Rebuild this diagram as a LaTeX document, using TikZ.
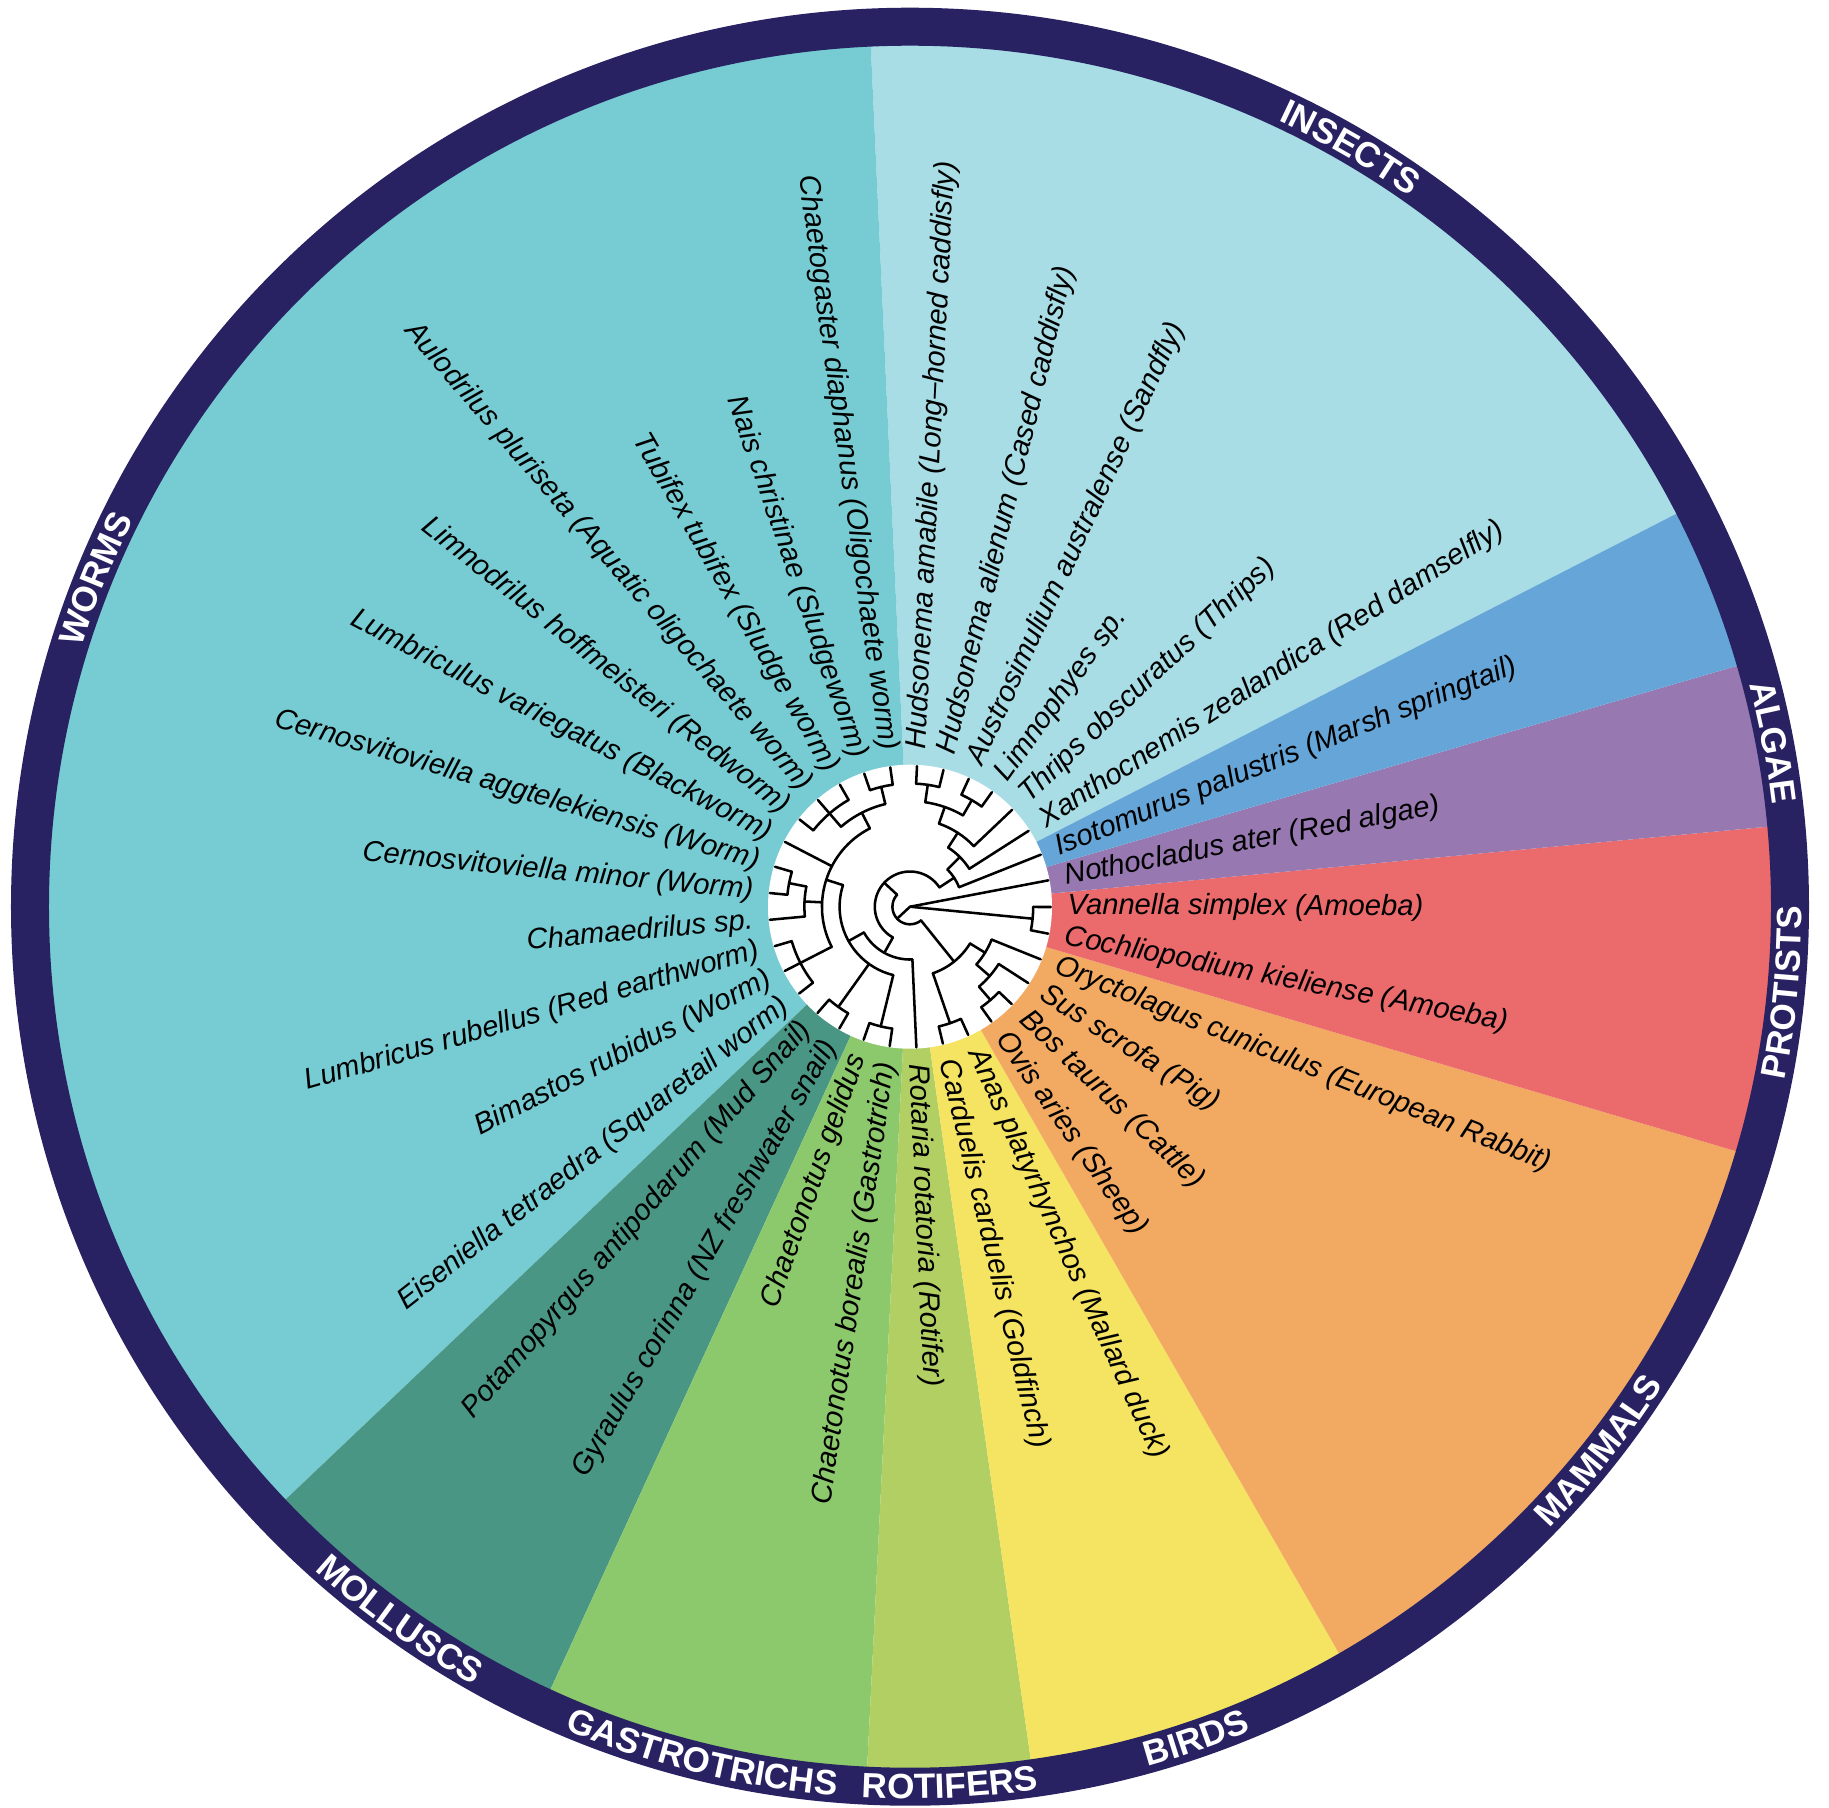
\documentclass[tikz,border=0pt]{standalone}
\usepackage{fontspec}
\setmainfont{Liberation Sans}
\usepackage{xcolor}
\usetikzlibrary{decorations.text}

\definecolor{wormcol}{HTML}{77CCD3}
\definecolor{insectcol}{HTML}{A8DDE5}
\definecolor{springcol}{HTML}{66A5D7}
\definecolor{algaecol}{HTML}{9878B1}
\definecolor{protistcol}{HTML}{EB6A6B}
\definecolor{mammalcol}{HTML}{F2AA62}
\definecolor{birdcol}{HTML}{F5E461}
\definecolor{rotifercol}{HTML}{B2CF63}
\definecolor{gastrocol}{HTML}{8CC86C}
\definecolor{molluscol}{HTML}{4A9685}
\definecolor{ringcol}{HTML}{282262}

\newcommand{\leaffont}{\fontsize{8.3}{10}\selectfont\itshape}
\newcommand{\ringfont}{\fontsize{10}{12}\selectfont\bfseries\color{white}}
% radius, from angle, to angle
\newcommand{\clade}[3]{\draw[branch] (#2:#1) arc[start angle=#2, end angle=#3, radius=#1];}
% angle, inner radius, outer radius
\newcommand{\stem}[3]{\draw[branch] (#1:#2) -- (#1:#3);}
\newcommand{\sector}[3]{\fill[#1] (0,0) -- (#2:881) arc[start angle=#2, end angle=#3, radius=881] -- cycle;}
\newcommand{\cwlabel}[2]{\path[decorate, decoration={text along path, text={|\ringfont|#2}, text align=center}] ({#1+16}:868) arc[start angle={#1+16}, end angle={#1-16}, radius=868];}
\newcommand{\ccwlabel}[2]{\path[decorate, decoration={text along path, text={|\ringfont|#2}, text align=center}] ({#1-16}:892) arc[start angle={#1-16}, end angle={#1+16}, radius=892];}

\tikzset{
  branch/.style={line width=0.72pt, line cap=round, line join=round},
  leafR/.style={anchor=west, inner sep=0pt, font=\leaffont},
  leafL/.style={anchor=east, inner sep=0pt, font=\leaffont},
  ring/.style={draw=ringcol, line width=3.8mm},
}

\begin{document}
\begin{tikzpicture}[x=0.1mm, y=0.1mm]
    \useasboundingbox (-910,-900.3) rectangle (919,906.7);

    % coloured sectors
    \sector{insectcol}{27.15}{92.61}
    \sector{wormcol}{92.61}{223.51}
    \sector{molluscol}{223.51}{245.33}
    \sector{gastrocol}{245.33}{267.15}
    \sector{rotifercol}{267.15}{278.06}
    \sector{birdcol}{278.06}{299.88}
    \sector{mammalcol}{299.88}{343.51}
    \sector{protistcol}{343.51}{365.33}
    \sector{algaecol}{5.33}{16.24}
    \sector{springcol}{16.24}{27.15}
    \draw[ring] (0,0) circle[radius=880];
    \fill[white] (0,0) circle[radius=142];

    % group names on the ring
    \cwlabel{59.88}{INSECTS}
    \cwlabel{10.79}{ALGAE}
    \cwlabel{158.06}{WORMS}
    \ccwlabel{-5.58}{PROTISTS}
    \ccwlabel{-38.30}{MAMMALS}
    \ccwlabel{-71.03}{BIRDS}
    \ccwlabel{-87.40}{ROTIFERS}
    \ccwlabel{-103.76}{GASTROTRICHS}
    \ccwlabel{-125.58}{MOLLUSCS}

    % taxa
    \node[leafR, rotate=87.15] (hamab) at (87.15:157) {Hudsonema amabile (Long--horned caddisfly)};
    \node[leafR, rotate=76.24] (halie) at (76.24:157) {Hudsonema alienum (Cased caddisfly)};
    \node[leafR, rotate=65.33] (austr) at (65.33:157) {Austrosimulium australense (Sandfly)};
    \node[leafR, rotate=54.42] (limno) at (54.42:157) {Limnophyes sp.};
    \node[leafR, rotate=43.51] (thrip) at (43.51:157) {Thrips obscuratus (Thrips)};
    \node[leafR, rotate=32.60] (xanth) at (32.60:157) {Xanthocnemis zealandica (Red damselfly)};
    \node[leafR, rotate=21.70] (isoto) at (21.70:157) {Isotomurus palustris (Marsh springtail)};
    \node[leafR, rotate=10.79] (notho) at (10.79:157) {Nothocladus ater (Red algae)};
    \node[leafR, rotate=-0.12] (vanne) at (-0.12:157) {Vannella simplex (Amoeba)};
    \node[leafR, rotate=-11.03] (cochl) at (-11.03:157) {Cochliopodium kieliense (Amoeba)};
    \node[leafR, rotate=-21.94] (oryct) at (-21.94:157) {Oryctolagus cuniculus (European Rabbit)};
    \node[leafR, rotate=-32.85] (susscr) at (-32.85:157) {Sus scrofa (Pig)};
    \node[leafR, rotate=-43.76] (bostau) at (-43.76:157) {Bos taurus (Cattle)};
    \node[leafR, rotate=-54.67] (ovisar) at (-54.67:157) {Ovis aries (Sheep)};
    \node[leafR, rotate=-65.58] (anasp) at (-65.58:157) {Anas platyrhynchos (Mallard duck)};
    \node[leafR, rotate=-76.49] (cardu) at (-76.49:157) {Carduelis carduelis (Goldfinch)};
    \node[leafR, rotate=-87.40] (rotar) at (-87.40:157) {Rotaria rotatoria (Rotifer)};
    \node[leafL, rotate=81.70] (cbore) at (261.70:157) {Chaetonotus borealis (Gastrotrich)};
    \node[leafL, rotate=70.79] (cgeli) at (250.79:157) {Chaetonotus gelidus};
    \node[leafL, rotate=59.88] (gyrau) at (239.88:157) {Gyraulus corinna (NZ freshwater snail)};
    \node[leafL, rotate=48.97] (potam) at (228.97:157) {Potamopyrgus antipodarum (Mud Snail)};
    \node[leafL, rotate=38.06] (eisen) at (218.06:157) {Eiseniella tetraedra (Squaretail worm)};
    \node[leafL, rotate=27.15] (bimas) at (207.15:157) {Bimastos rubidus (Worm)};
    \node[leafL, rotate=16.24] (lumbr) at (196.24:157) {Lumbricus rubellus (Red earthworm)};
    \node[leafL, rotate=5.33] (chama) at (185.33:157) {Chamaedrilus sp.};
    \node[leafL, rotate=-5.58] (cminor) at (174.42:157) {Cernosvitoviella minor (Worm)};
    \node[leafL, rotate=-16.49] (caggt) at (163.51:157) {Cernosvitoviella aggtelekiensis (Worm)};
    \node[leafL, rotate=-27.40] (lvari) at (152.60:157) {Lumbriculus variegatus (Blackworm)};
    \node[leafL, rotate=-38.30] (lhoff) at (141.70:157) {Limnodrilus hoffmeisteri (Redworm)};
    \node[leafL, rotate=-49.21] (aulod) at (130.79:157) {Aulodrilus pluriseta (Aquatic oligochaete worm)};
    \node[leafL, rotate=-60.12] (tubif) at (119.88:157) {Tubifex tubifex (Sludge worm)};
    \node[leafL, rotate=-71.03] (naisc) at (108.97:157) {Nais christinae (Sludgeworm)};
    \node[leafL, rotate=-81.94] (chaet) at (98.06:157) {Chaetogaster diaphanus (Oligochaete worm)};

    % tree: insects and springtail
    \clade{123.2}{87.15}{76.24}
    \stem{87.15}{123.2}{140.8} \stem{76.24}{123.2}{140.8}
    \clade{123.2}{65.33}{54.42}
    \stem{65.33}{123.2}{140.8} \stem{54.42}{123.2}{140.8}
    \clade{105.6}{81.70}{59.88}
    \stem{81.70}{105.6}{123.2} \stem{59.88}{105.6}{123.2}
    \clade{88}{70.79}{43.51}
    \stem{70.79}{88}{105.6} \stem{43.51}{88}{140.8}
    \clade{70.4}{57.15}{32.60}
    \stem{57.15}{70.4}{88} \stem{32.60}{70.4}{140.8}
    \clade{52.8}{44.88}{21.70}
    \stem{44.88}{52.8}{70.4} \stem{21.70}{52.8}{140.8}

    % tree: worms
    \clade{123.2}{108.97}{98.06}
    \stem{108.97}{123.2}{140.8} \stem{98.06}{123.2}{140.8}
    \clade{123.2}{141.70}{119.88}
    \stem{141.70}{123.2}{140.8} \stem{130.79}{123.2}{140.8} \stem{119.88}{123.2}{140.8}
    \clade{105.6}{103.52}{130.79}
    \stem{103.52}{105.6}{123.2} \stem{130.79}{105.6}{123.2}
    \clade{123.2}{163.51}{174.42}
    \stem{163.51}{123.2}{140.8} \stem{174.42}{123.2}{140.8}
    \clade{105.6}{168.97}{185.33}
    \stem{168.97}{105.6}{123.2} \stem{185.33}{105.6}{140.8}
    \clade{123.2}{196.24}{218.06}
    \stem{196.24}{123.2}{140.8} \stem{207.15}{123.2}{140.8} \stem{218.06}{123.2}{140.8}
    \clade{88}{117.15}{207.15}
    \stem{117.15}{88}{105.6} \stem{152.60}{88}{140.8}
    \stem{177.15}{88}{105.6} \stem{207.15}{88}{123.2}

    % tree: molluscs, gastrotrichs, rotifer
    \clade{123.2}{228.97}{239.88}
    \stem{228.97}{123.2}{140.8} \stem{239.88}{123.2}{140.8}
    \clade{123.2}{250.79}{261.70}
    \stem{250.79}{123.2}{140.8} \stem{261.70}{123.2}{140.8}
    \clade{70.4}{162.15}{256.25}
    \stem{162.15}{70.4}{88} \stem{234.43}{70.4}{123.2} \stem{256.25}{70.4}{123.2}
    \clade{52.8}{209.20}{272.60}
    \stem{209.20}{52.8}{70.4} \stem{272.60}{52.8}{140.8}
    \clade{35.2}{33.29}{240.90}
    \stem{33.29}{35.2}{52.8} \stem{240.90}{35.2}{52.8}

    % tree: mammals and birds
    \clade{123.2}{-43.76}{-54.67}
    \stem{-43.76}{123.2}{140.8} \stem{-54.67}{123.2}{140.8}
    \clade{105.6}{-32.85}{-49.22}
    \stem{-32.85}{105.6}{140.8} \stem{-49.22}{105.6}{123.2}
    \clade{88}{-21.94}{-41.03}
    \stem{-21.94}{88}{140.8} \stem{-41.03}{88}{105.6}
    \clade{123.2}{-65.58}{-76.49}
    \stem{-65.58}{123.2}{140.8} \stem{-76.49}{123.2}{140.8}
    \clade{70.4}{-31.49}{-71.03}
    \stem{-31.49}{70.4}{88} \stem{-71.03}{70.4}{123.2}

    % tree: base, protists, alga
    \clade{17.6}{137.10}{308.74}
    \stem{137.10}{17.6}{35.2} \stem{308.74}{17.6}{70.4}
    \clade{123.2}{-0.12}{-11.03}
    \stem{-0.12}{123.2}{140.8} \stem{-11.03}{123.2}{140.8}
    \stem{222.90}{0}{17.6} \stem{10.79}{0}{140.8} \stem{-5.58}{0}{123.2}
\end{tikzpicture}
\end{document}
